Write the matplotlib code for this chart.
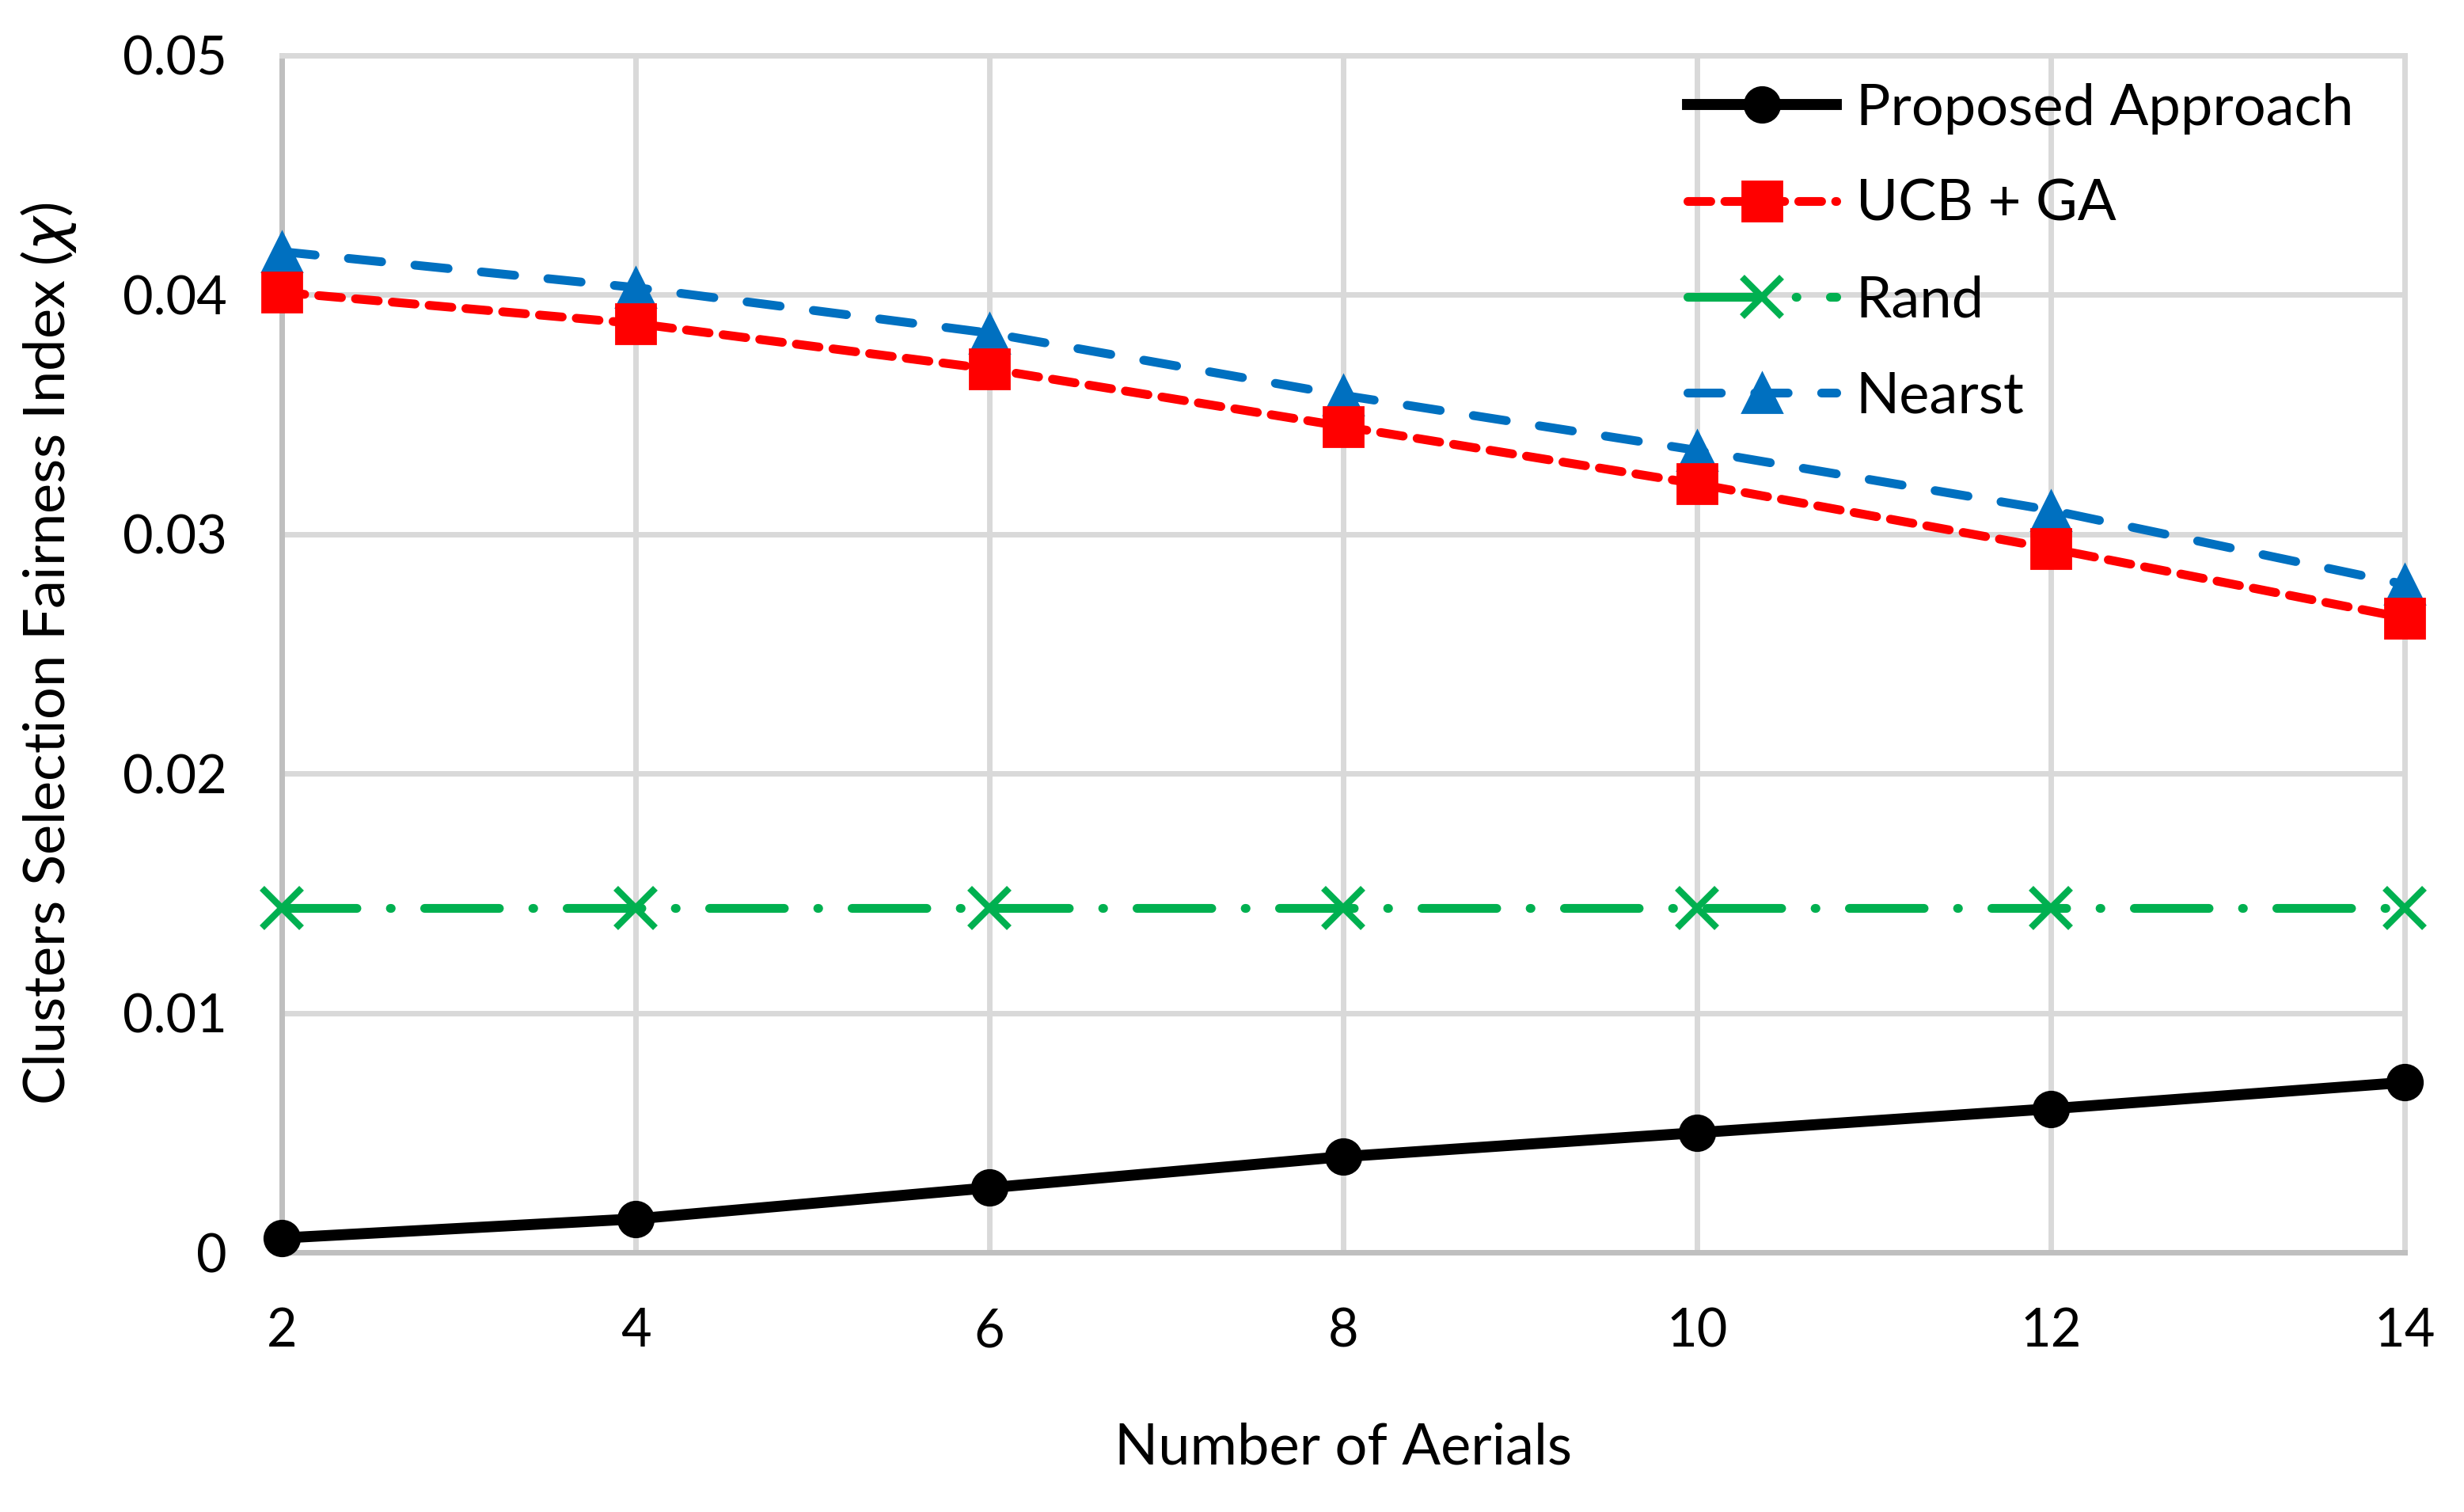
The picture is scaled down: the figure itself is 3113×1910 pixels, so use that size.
import matplotlib
matplotlib.use('Agg')
import matplotlib.pyplot as plt

plt.rcParams['font.family'] = ['Lato', 'DejaVu Sans']
plt.rcParams['mathtext.fontset'] = 'dejavusans'

aerials = [2, 4, 6, 8, 10, 12, 14]
proposed = [0.0006, 0.0014, 0.0027, 0.0040, 0.0050, 0.0060, 0.0071]
ucb_ga = [0.0401, 0.0388, 0.0369, 0.0345, 0.0321, 0.0294, 0.0265]
rand = [0.0144, 0.0144, 0.0144, 0.0144, 0.0144, 0.0144, 0.0144]
nearst = [0.0418, 0.0403, 0.0384, 0.0358, 0.0335, 0.0310, 0.0279]
yticks = [0, 0.01, 0.02, 0.03, 0.04, 0.05]
ytick_labels = ['0', '0.01', '0.02', '0.03', '0.04', '0.05']

fig = plt.figure(figsize=(15.565, 9.55), dpi=200)
ax = fig.add_axes([0.1144, 0.1717, 0.8616, 0.7917])

ax.plot(aerials, proposed, color='black', lw=5, marker='o', markersize=16,
        label='Proposed Approach', clip_on=False, zorder=5)
l2, = ax.plot(aerials, ucb_ga, color='#FF0000', lw=4, marker='s', markersize=18,
        label='UCB + GA', clip_on=False, zorder=4, dash_capstyle='round')
l2.set_dashes((2.6, 1.6))
l3, = ax.plot(aerials, rand, color='#00B050', lw=4, marker='x', markersize=18,
        markeredgewidth=3, label='Rand', clip_on=False, zorder=3, dash_capstyle='round')
l3.set_dashes((8.5, 3.8, 0.1, 3.8))
l4, = ax.plot(aerials, nearst, color='#0070C0', lw=4, marker='^', markersize=18,
        label='Nearst', clip_on=False, zorder=3, dash_capstyle='round')
l4.set_dashes((3.8, 3.8))

ax.set_xlim(2, 14)
ax.set_ylim(0, 0.05)
ax.set_xticks(aerials)
ax.set_yticks(yticks)
ax.set_yticklabels(ytick_labels)
ax.tick_params(length=0, labelsize=24, pad=25)

ax.grid(True, color='#D9D9D9', lw=2.5)
ax.set_axisbelow(True)
for s in ['top', 'right']:
    ax.spines[s].set_color('#D9D9D9')
    ax.spines[s].set_linewidth(2.5)
for s in ['left', 'bottom']:
    ax.spines[s].set_color('#BFBFBF')
    ax.spines[s].set_linewidth(2.5)

ax.set_xlabel('Number of Aerials', fontsize=26, labelpad=30)
ax.set_ylabel(r'Clusters Selection Fairness Index ($\chi$)', fontsize=26, labelpad=20)

ax.legend(loc='upper right', bbox_to_anchor=(1.0, 1.02), frameon=False, fontsize=26,
          handlelength=2.6, labelspacing=0.78, handletextpad=0.35)

fig.savefig('out.png', dpi=200)
